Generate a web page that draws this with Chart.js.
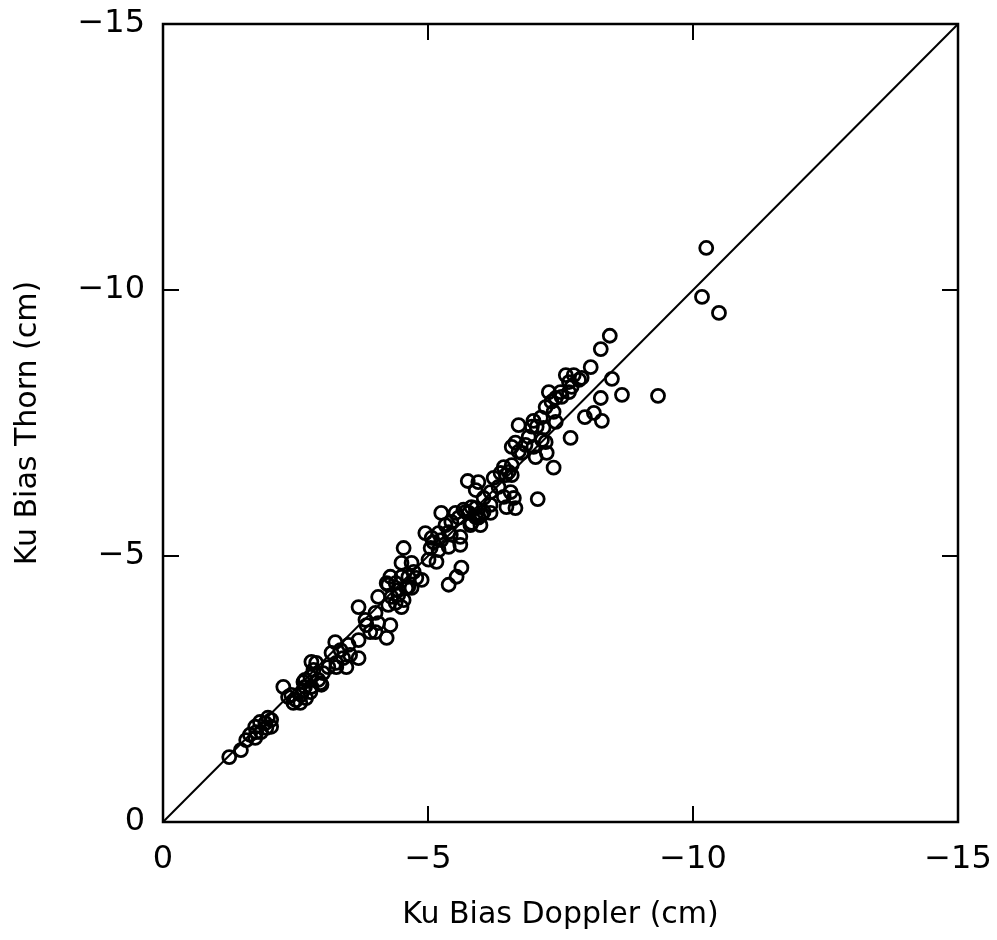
<!DOCTYPE html>
<html>
<head>
<meta charset="utf-8">
<script src="https://cdn.jsdelivr.net/npm/chart.js@4/dist/chart.umd.min.js"></script>
<style>
  html, body { margin: 0; padding: 0; background: #fff; }
  #wrap { width: 997px; height: 940px; }
</style>
</head>
<body>
<div id="wrap"><canvas id="biasChart" width="997" height="940"></canvas></div>
<script>
// Ku bias: Doppler (x) vs Thorn (y), cm
var dopplerBias = [
  -1.25,-1.47,-1.57,-1.64,-1.74,-1.76,-1.85,-1.93,-1.98,-2.04,-1.83,-1.74,-1.95,-2.04,
  -2.27,-2.42,-2.51,-2.61,-2.70,-2.46,-2.59,-2.78,-2.68,-2.65,-2.78,-2.84,-2.97,-2.89,-3.02,-3.12,-3.27,-2.80,-2.93,-2.68,-2.80,-2.65,-2.99,-2.36,
  -3.25,-3.18,-3.35,-3.40,-3.53,-3.69,-3.27,-3.46,-3.50,-3.69,-3.69,-3.84,-3.91,-4.06,-4.29,-4.22,-4.01,-3.82,-4.06,-4.31,-4.39,-4.50,-4.25,-4.54,
  -4.25,-4.44,-4.63,-4.29,-4.22,-4.39,-4.44,-4.59,-4.69,-4.50,-4.69,-4.73,-4.78,-4.88,-4.63,-4.50,-4.54,-5.01,-5.16,-4.01,
  -4.95,-5.10,-5.25,-5.43,-5.61,-5.61,-5.39,-5.20,-5.05,-5.63,-5.54,-5.39,-5.25,-5.52,-5.71,-5.82,-5.90,-6.01,-5.99,-5.80,-5.58,-5.33,-5.44,-5.39,-5.20,-5.07,-5.77,-5.67,-5.82,
  -5.75,-5.95,-5.90,-6.05,-6.18,-6.18,-6.05,-5.90,-5.95,-6.43,-6.58,-6.52,-6.37,-6.24,-6.33,-6.18,-6.56,-6.62,-6.43,-6.48,-6.65,-7.07,
  -7.37,-6.47,-6.58,-6.71,-6.90,-7.05,-7.18,-7.22,-6.99,-6.84,-6.65,-6.58,-6.71,-7.03,-7.24,-6.77,-6.96,-7.13,-7.41,-7.69,-7.15,
  -7.28,-7.41,-7.50,-7.33,-7.22,-7.37,-7.60,-7.75,-7.85,-7.66,-7.71,-7.66,-7.52,-8.07,-8.26,-8.43,-8.47,-8.66,-9.34,-8.26,-7.96,-8.13,-8.28,
  -10.25,-10.17,-10.49,-7.90,-6.99
];
var thornBias = [
  -1.22,-1.35,-1.54,-1.64,-1.58,-1.69,-1.69,-1.86,-1.96,-1.92,-1.88,-1.79,-1.77,-1.79,
  -2.54,-2.39,-2.29,-2.39,-2.33,-2.24,-2.24,-2.44,-2.54,-2.63,-2.73,-2.86,-2.61,-2.99,-2.80,-2.91,-2.91,-3.01,-2.67,-2.67,-2.54,-2.48,-2.58,-2.35,
  -3.38,-3.18,-3.23,-3.08,-3.14,-3.08,-2.99,-2.91,-3.33,-3.42,-4.04,-3.70,-3.57,-3.74,-3.70,-3.46,-3.93,-3.80,-4.23,-4.23,-4.12,-4.04,-4.08,-4.17,
  -4.46,-4.27,-4.42,-4.61,-4.49,-4.49,-4.36,-4.40,-4.40,-4.87,-4.87,-4.70,-4.59,-4.55,-4.61,-4.61,-5.15,-4.93,-4.89,-3.57,
  -5.43,-5.26,-5.30,-5.40,-5.36,-5.21,-5.17,-5.11,-5.15,-4.78,-4.61,-4.46,-5.81,-5.81,-5.83,-5.92,-5.73,-5.77,-5.58,-5.58,-5.72,-5.58,-5.64,-5.45,-5.43,-5.34,-5.81,-5.87,-5.62,
  -6.41,-6.39,-6.24,-6.09,-5.96,-5.81,-5.83,-5.90,-5.72,-6.67,-6.71,-6.58,-6.56,-6.47,-6.30,-6.20,-6.20,-6.09,-6.11,-5.92,-5.90,-6.07,
  -6.66,-6.52,-6.52,-7.46,-7.24,-7.43,-7.41,-7.14,-7.05,-7.09,-7.13,-7.05,-6.96,-6.86,-6.94,-6.94,-7.43,-7.60,-7.52,-7.22,-7.18,
  -8.08,-7.97,-8.08,-7.90,-7.80,-7.71,-8.40,-8.40,-8.31,-8.27,-8.18,-8.08,-7.99,-8.55,-8.89,-9.14,-8.33,-8.03,-8.01,-7.97,-7.61,-7.69,-7.54,
  -10.79,-9.87,-9.57,-8.35,-7.54
];
// 1:1 reference line
var lineEnds = [0, -15];
var tickValues = [0, -5, -10, -15];

var points = dopplerBias.map(function (x, i) { return { x: x, y: thornBias[i] }; });
var oneToOne = lineEnds.map(function (v) { return { x: v, y: v }; });

var fontFam = "'DejaVu Sans', 'Liberation Sans', sans-serif";

function tickText(v) {
  return v === 0 ? "0" : "\u2212" + Math.abs(v);
}

// frame around plot + inward ticks on all four sides
var frameTicks = {
  id: "frameTicks",
  afterDatasetsDraw: function (chart) {
    var ctx = chart.ctx, a = chart.chartArea;
    var xs = chart.scales.x, ys = chart.scales.y;
    var len = 16;
    ctx.save();
    ctx.strokeStyle = "#000";
    ctx.lineWidth = 2.5;
    ctx.strokeRect(a.left, a.top, a.right - a.left, a.bottom - a.top);
    ctx.lineWidth = 2;
    tickValues.forEach(function (v) {
      if (v === 0 || v === -15) return;
      var px = xs.getPixelForValue(v);
      ctx.beginPath();
      ctx.moveTo(px, a.bottom); ctx.lineTo(px, a.bottom - len);
      ctx.moveTo(px, a.top); ctx.lineTo(px, a.top + len);
      var py = ys.getPixelForValue(v);
      ctx.moveTo(a.left, py); ctx.lineTo(a.left + len, py);
      ctx.moveTo(a.right, py); ctx.lineTo(a.right - len, py);
      ctx.stroke();
    });
    ctx.restore();
  }
};

new Chart(document.getElementById("biasChart").getContext("2d"), {
  type: "scatter",
  data: {
    datasets: [
      {
        label: "Ku bias",
        data: points,
        pointStyle: "circle",
        pointRadius: 6.5,
        pointBorderWidth: 2.8,
        pointBorderColor: "#000",
        pointBackgroundColor: "rgba(255,255,255,0)",
        showLine: false
      },
      {
        type: "line",
        label: "1:1",
        data: oneToOne,
        borderColor: "#000",
        borderWidth: 2,
        pointRadius: 0,
        fill: false
      }
    ]
  },
  options: {
    responsive: false,
    animation: false,
    layout: { padding: { top: 24, right: 39, left: 0, bottom: 0 } },
    plugins: { legend: { display: false }, tooltip: { enabled: false } },
    scales: {
      x: {
        type: "linear",
        min: -15,
        max: 0,
        reverse: true,
        border: { display: false },
        grid: { display: false, drawTicks: false },
        afterFit: function (s) {
          s.height = 118;
          s.paddingLeft = 0;
          s.paddingRight = 0;
        },
        ticks: {
          stepSize: 5,
          padding: 18,
          color: "#000",
          font: { family: fontFam, size: 32 },
          maxRotation: 0,
          callback: tickText
        },
        title: {
          display: true,
          text: "Ku Bias Doppler (cm)",
          color: "#000",
          font: { family: fontFam, size: 30 },
          padding: { top: 0, bottom: 7 }
        }
      },
      y: {
        type: "linear",
        min: -15,
        max: 0,
        reverse: true,
        border: { display: false },
        grid: { display: false, drawTicks: false },
        afterFit: function (s) {
          s.width = 163;
          s.paddingTop = 0;
          s.paddingBottom = 0;
        },
        ticks: {
          stepSize: 5,
          padding: 18,
          color: "#000",
          font: { family: fontFam, size: 32 },
          callback: tickText
        },
        title: {
          display: true,
          text: "Ku Bias Thorn (cm)",
          color: "#000",
          font: { family: fontFam, size: 30 },
          padding: { top: 10, bottom: 0 }
        }
      }
    }
  },
  plugins: [frameTicks]
});
</script>
</body>
</html>
